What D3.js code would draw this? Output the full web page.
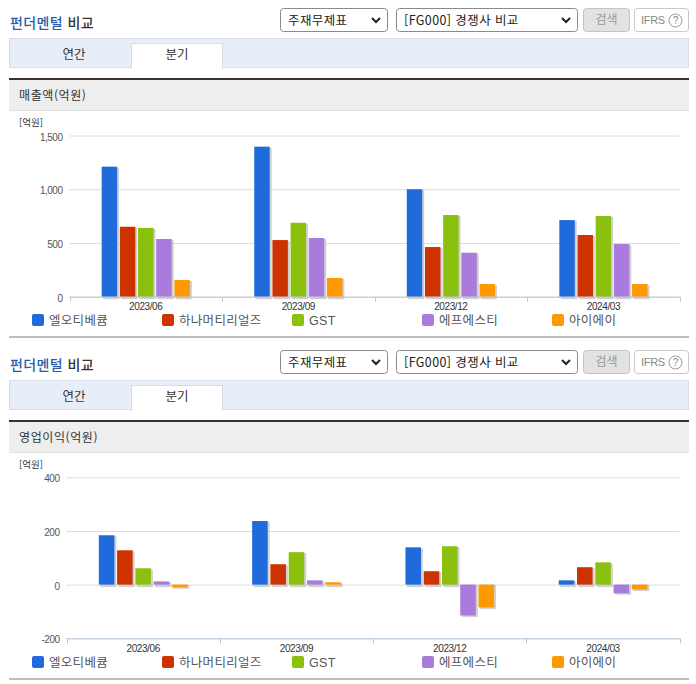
<!DOCTYPE html>
<html lang="ko">
<head>
<meta charset="utf-8">
<script src="https://cdn.jsdelivr.net/npm/d3@7"></script>
<style>
html,body{margin:0;padding:0;background:#fff;overflow:hidden}
svg{display:block}
text{font-family:"Noto Sans CJK KR","Noto Sans",sans-serif}
.num{font-family:"Liberation Sans",Arial,sans-serif}
.lgt{font-family:"Liberation Sans","Noto Sans CJK KR",sans-serif}
</style>
</head>
<body>
<svg id="c" width="696" height="684"></svg>
<script>
const periods = ["2023/06","2023/09","2023/12","2024/03"];
const companies = ["엘오티베큠","하나머티리얼즈","GST","에프에스티","아이에이"];
const colors = ["#1f6bdc","#cc3300","#8cc00f","#a87bdc","#ff9900"];
const sales = [
  [1210,1396,1000,713],
  [651,527,462,574],
  [640,688,760,751],
  [537,546,409,490],
  [155,174,118,118]
];
const profit = [
  [184,237,139,16],
  [128,76,50,65],
  [61,121,143,83],
  [12,16,-115,-32],
  [-10,9,-85,-18]
];
const salesTicks = [0,500,1000,1500];
const profitTicks = [-200,0,200,400];
const tabs = ["연간","분기"];

const svg = d3.select("#c");

function panel(top, metric, values, ticks, domain, yTop, yBottom, xLeft){
  const g = svg.append("g").attr("transform", `translate(0,${top})`);
  // title row
  const t = g.append("text").attr("x",10).attr("y",28).attr("font-size",14).attr("font-weight",500).attr("letter-spacing",.4);
  t.append("tspan").attr("fill","#2b5cab").text("펀더멘털");
  t.append("tspan").attr("fill","#333").text(" 비교");

  function control(x,w,label){
    g.append("rect").attr("x",x+.5).attr("y",8.5).attr("width",w-1).attr("height",23).attr("rx",3)
      .attr("fill","#fff").attr("stroke","#8a8a8a");
    g.append("text").attr("x",x+8).attr("y",24.5).attr("font-size",12.5).attr("fill","#222").attr("letter-spacing",.4).text(label);
    g.append("path").attr("d",`M${x+w-16},18 l4,4 l4,-4`).attr("fill","none").attr("stroke","#222").attr("stroke-width",2);
  }
  control(280,108,"주재무제표");
  control(396,182,"[FG000] 경쟁사 비교");
  g.append("rect").attr("x",583.5).attr("y",8.5).attr("width",46).attr("height",23).attr("rx",3)
    .attr("fill","#e2e2e2").attr("stroke","#c4c4c4");
  g.append("text").attr("x",606.5).attr("y",24).attr("text-anchor","middle").attr("font-size",12).attr("fill","#999").text("검색");
  g.append("rect").attr("x",634.5).attr("y",8.5).attr("width",54).attr("height",23).attr("rx",3)
    .attr("fill","#fff").attr("stroke","#c8c8c8");
  g.append("text").attr("class","num").attr("x",641).attr("y",24).attr("font-size",11).attr("fill","#888").attr("letter-spacing",-.3).text("IFRS");
  g.append("circle").attr("cx",675.5).attr("cy",20.5).attr("r",6.5).attr("fill","#fff").attr("stroke","#999");
  g.append("text").attr("class","num").attr("x",675.5).attr("y",24).attr("text-anchor","middle").attr("font-size",10).attr("fill","#888").text("?");

  // tab bar
  g.append("rect").attr("x",9.5).attr("y",38.5).attr("width",679).attr("height",29).attr("fill","#e8eef8").attr("stroke","#d6dde6");
  g.append("rect").attr("x",131.5).attr("y",43.5).attr("width",91).attr("height",25).attr("fill","#fff").attr("stroke","#d6dde6");
  g.append("rect").attr("x",132).attr("y",66).attr("width",90).attr("height",3).attr("fill","#fff");
  g.selectAll(".tab").data(tabs).join("text").attr("class","tab")
    .attr("x",(d,i)=>i?177:74).attr("y",59).attr("text-anchor","middle").attr("font-size",12.5).attr("fill","#333").text(d=>d);

  // metric header
  g.append("rect").attr("x",9).attr("y",79).attr("width",680).attr("height",32).attr("fill","#eeeeee");
  g.append("rect").attr("x",9).attr("y",110).attr("width",680).attr("height",1).attr("fill","#e0e0e0");
  g.append("rect").attr("x",9).attr("y",78).attr("width",680).attr("height",2).attr("fill","#333");
  g.append("text").attr("x",19).attr("y",99.5).attr("font-size",12).attr("fill","#333").attr("letter-spacing",.6).text(metric);
  g.append("text").attr("x",19).attr("y",126).attr("font-size",9.5).attr("fill","#333").text("[억원]");

  // scales
  const y = d3.scaleLinear().domain(domain).range([yBottom,yTop]);
  const x0 = d3.scaleBand().domain(periods).range([xLeft,679.7]);
  const x1 = d3.scaleBand().domain(d3.range(companies.length))
    .range([0,x0.bandwidth()]).paddingInner(0.15).paddingOuter(1.77);

  // grid
  const fmt = d3.format(",");
  const grid = g.append("g").attr("transform",`translate(${xLeft},0)`)
    .call(d3.axisLeft(y).tickValues(ticks).tickSize(-(679.7-xLeft)).tickPadding(xLeft===69.5?7:7)
      .tickFormat(d=>fmt(d).replace("\u2212","-")));
  grid.select(".domain").remove();
  grid.selectAll("line").attr("stroke","#dcdcdc");
  grid.selectAll("text").attr("class","num").attr("font-size",10).attr("letter-spacing",-.5).attr("fill","#555").attr("dy","0.45em");

  // bars
  const series = g.append("g").selectAll("g").data(values).join("g");
  series.selectAll(".shadow").data((row,s)=>row.map((v,p)=>({v,p,s}))).join("rect").attr("class","shadow")
    .attr("x",d=>x0(periods[d.p])+x1(d.s)+1.5)
    .attr("y",d=>Math.min(y(d.v),y(0))+(d.v<0?0:1))
    .attr("width",x1.bandwidth()+.5)
    .attr("height",d=>Math.abs(y(d.v)-y(0))+1.5)
    .attr("fill","#c9c9c9").attr("opacity",.85);
  series.selectAll(".bar").data((row,s)=>row.map((v,p)=>({v,p,s}))).join("rect").attr("class","bar")
    .attr("x",d=>x0(periods[d.p])+x1(d.s))
    .attr("y",d=>Math.min(y(d.v),y(0)))
    .attr("width",x1.bandwidth())
    .attr("height",d=>Math.abs(y(d.v)-y(0)))
    .attr("fill",d=>colors[d.s]);

  // x axis
  const base = y(domain[0]);
  g.append("line").attr("x1",xLeft).attr("x2",679.7).attr("y1",base+.5).attr("y2",base+.5).attr("stroke","#b8c8dc");
  const edges = periods.map(p=>x0(p)).concat([679.7]);
  g.selectAll(".xt").data(edges).join("line").attr("class","xt")
    .attr("x1",d=>Math.round(d)+.5).attr("x2",d=>Math.round(d)+.5)
    .attr("y1",base).attr("y2",base+5).attr("stroke","#b8c8dc");
  g.selectAll(".xl").data(periods).join("text").attr("class","xl num")
    .attr("x",d=>x0(d)+x0.bandwidth()/2).attr("y",base+13.5)
    .attr("text-anchor","middle").attr("font-size",10).attr("letter-spacing",-.4).attr("fill","#333").text(d=>d);

  // legend
  const lg = g.selectAll(".lg").data(companies).join("g").attr("class","lg")
    .attr("transform",(d,i)=>`translate(${32+130*i},${314})`);
  lg.append("rect").attr("width",12).attr("height",12).attr("rx",2).attr("fill",(d,i)=>colors[i]);
  lg.append("text").attr("class","lgt").attr("x",17).attr("y",11).attr("font-size",12.5).attr("fill","#555").attr("letter-spacing",.3).text(d=>d);

  g.append("rect").attr("x",9).attr("y",336).attr("width",680).attr("height",2).attr("fill","#bdbdbd");
}

panel(0,"매출액(억원)",sales,salesTicks,[0,1500],135.5,296.7,69.5);
panel(342,"영업이익(억원)",profit,profitTicks,[-200,400],135.3,296.3,66.5);
</script>
</body>
</html>
